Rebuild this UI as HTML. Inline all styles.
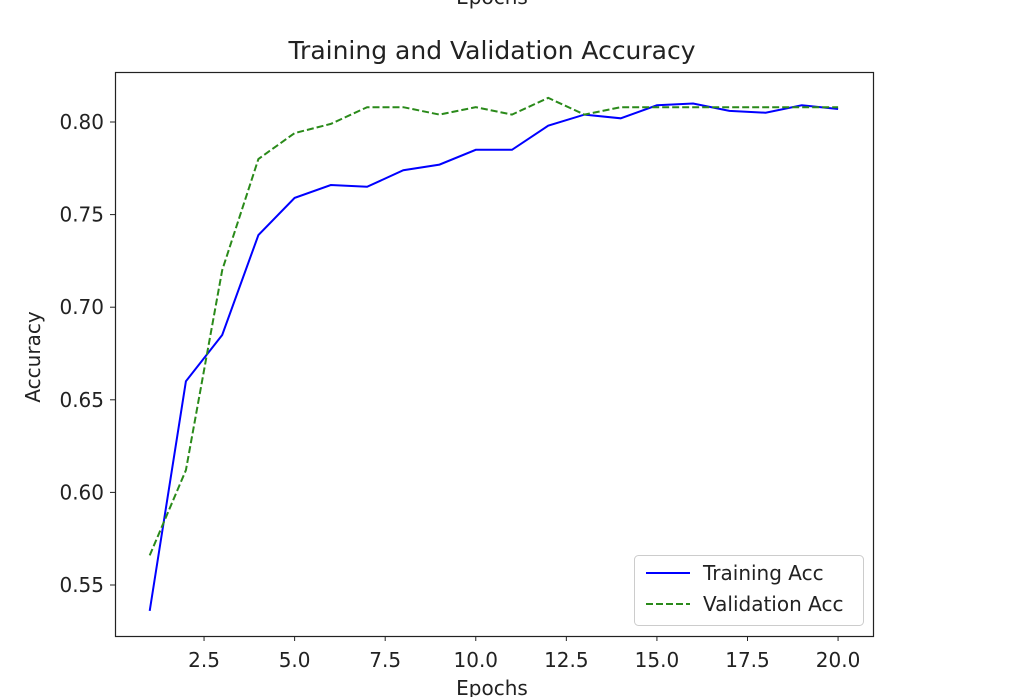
<!DOCTYPE html>
<html><head><meta charset="utf-8"><style>
html,body{margin:0;padding:0;background:#fff;}
svg{display:block;font-family:"DejaVu Sans","Liberation Sans",sans-serif;}
</style></head><body>
<svg id="s" width="1024" height="697" viewBox="0 0 1024 697">
<text x="492" y="4" font-size="20" text-anchor="middle" fill="#222">Epochs</text>
<text x="492" y="59" font-size="25" text-anchor="middle" fill="#222">Training and Validation Accuracy</text>
<rect x="115.5" y="72.5" width="758" height="564" fill="none" stroke="#222" stroke-width="1.2"/>
<g id="g"></g>
<text x="492" y="695" font-size="20" text-anchor="middle" fill="#222">Epochs</text>
<text transform="translate(40,357) rotate(-90)" font-size="20" text-anchor="middle" fill="#222">Accuracy</text>
<rect x="634.5" y="555.5" width="229" height="70" rx="4" fill="#fff" stroke="#ccc"/>
<line x1="646" y1="573" x2="690" y2="573" stroke="#0000ff" stroke-width="2"/>
<text x="703" y="580" font-size="20" fill="#222">Training Acc</text>
<line x1="646" y1="604" x2="690" y2="604" stroke="#2a8a1a" stroke-width="2" stroke-dasharray="7,3"/>
<text x="703" y="611" font-size="20" fill="#222">Validation Acc</text>
</svg>
<script>
var X=function(e){return 149.7+(e-1)*36.23;},Y=function(v){return 122+(0.80-v)*1852;};
var g=document.getElementById('g'),h='';
[2.5,5,7.5,10,12.5,15,17.5,20].forEach(function(t){var x=X(t);h+='<line x1="'+x+'" y1="636" x2="'+x+'" y2="641" stroke="#222"/><text x="'+x+'" y="667" font-size="20" text-anchor="middle" fill="#222">'+t.toFixed(1)+'</text>';});
[0.55,0.6,0.65,0.7,0.75,0.8].forEach(function(t){var y=Y(t);h+='<line x1="110" y1="'+y+'" x2="115" y2="'+y+'" stroke="#222"/><text x="104" y="'+(y+7)+'" font-size="20" text-anchor="end" fill="#222">'+t.toFixed(2)+'</text>';});
var tr=[0.536,0.66,0.685,0.739,0.759,0.766,0.765,0.774,0.777,0.785,0.785,0.798,0.804,0.802,0.809,0.810,0.806,0.805,0.809,0.807];
var va=[0.566,0.612,0.720,0.780,0.794,0.799,0.808,0.808,0.804,0.808,0.804,0.813,0.804,0.808,0.808,0.808,0.808,0.808,0.808,0.808];
function p(a){return a.map(function(v,i){return X(i+1).toFixed(1)+','+Y(v).toFixed(1);}).join(' ');}
h+='<polyline points="'+p(tr)+'" fill="none" stroke="#0000ff" stroke-width="2"/>';
h+='<polyline points="'+p(va)+'" fill="none" stroke="#2a8a1a" stroke-width="2" stroke-dasharray="7,3"/>';
g.innerHTML=h;
</script>
</body></html>
